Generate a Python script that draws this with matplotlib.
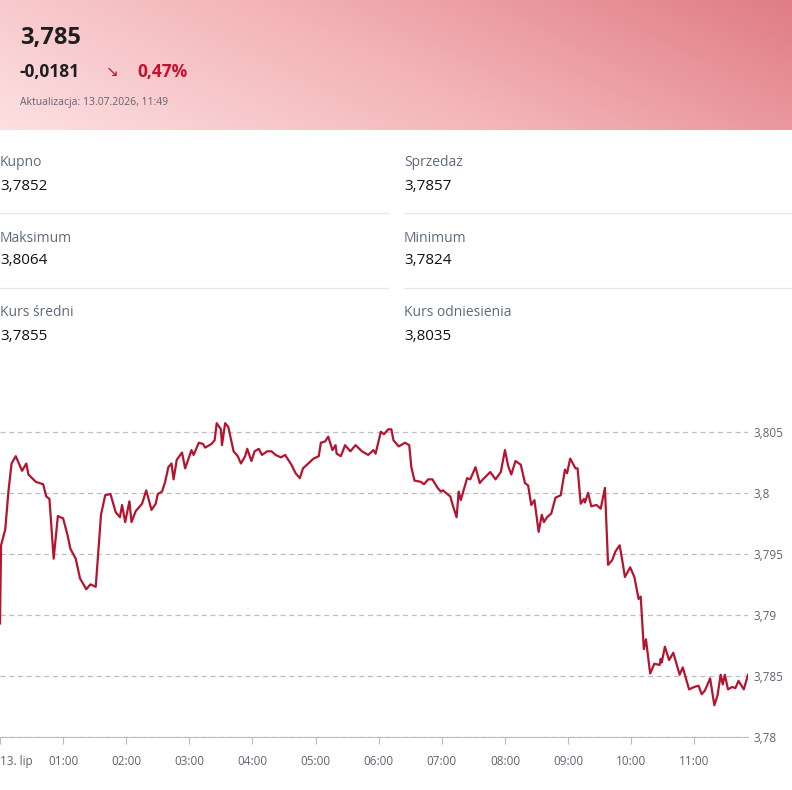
import numpy as np
import matplotlib.pyplot as plt
from matplotlib.colors import LinearSegmentedColormap

plt.rcParams['font.family'] = ['Open Sans', 'DejaVu Sans']

# minuty od północy i kurs
minutes = [0, 1, 5, 8, 11, 15, 21, 25, 27, 34, 41, 44, 47, 51, 55, 60, 64, 67, 72, 76,
           82, 86, 91, 96, 100, 105, 110, 114, 116, 119, 123, 125, 129, 135, 139, 144, 148, 150, 154, 157,
           160, 163, 165, 168, 173, 176, 182, 184, 189, 193, 195, 201, 204, 206, 210, 211, 214, 217, 219, 222,
           226, 229, 233, 235, 239, 242, 246, 249, 254, 258, 262, 267, 271, 277, 281, 285, 288, 293, 298, 303,
           305, 309, 312, 316, 319, 320, 324, 328, 333, 338, 344, 350, 355, 357, 362, 365, 369, 372, 374, 379,
           385, 389, 391, 394, 400, 403, 407, 411, 416, 419, 421, 428, 431, 434, 436, 438, 444, 447, 452, 456,
           459, 466, 471, 476, 480, 483, 486, 490, 495, 499, 502, 505, 508, 512, 515, 517, 520, 524, 528, 533,
           537, 539, 542, 547, 549, 552, 555, 556, 559, 562, 567, 571, 575, 578, 582, 585, 589, 592, 594, 599,
           603, 607, 609, 612, 614, 618, 622, 627, 628, 629, 632, 636, 640, 646, 649, 651, 655, 660, 664, 667,
           670, 675, 679, 682, 685, 687, 689, 692, 696, 699, 702, 707, 711]
rate = [3.7893, 3.7957, 3.7970, 3.8001, 3.8024, 3.8030, 3.8018, 3.8024, 3.8015, 3.8009,
        3.8007, 3.7997, 3.7995, 3.7946, 3.7981, 3.7979, 3.7966, 3.7954, 3.7946, 3.7930,
        3.7921, 3.7925, 3.7923, 3.7982, 3.7998, 3.7999, 3.7984, 3.7980, 3.7990, 3.7976,
        3.7993, 3.7976, 3.7985, 3.7991, 3.8002, 3.7986, 3.7991, 3.7999, 3.8001, 3.8009,
        3.8021, 3.8024, 3.8011, 3.8027, 3.8033, 3.8020, 3.8035, 3.8031, 3.8041, 3.8040,
        3.8037, 3.8040, 3.8043, 3.8057, 3.8052, 3.8039, 3.8057, 3.8054, 3.8046, 3.8034,
        3.8030, 3.8024, 3.8030, 3.8036, 3.8026, 3.8034, 3.8036, 3.8031, 3.8034, 3.8034,
        3.8031, 3.8029, 3.8031, 3.8023, 3.8016, 3.8012, 3.8020, 3.8024, 3.8028, 3.8030,
        3.8041, 3.8042, 3.8046, 3.8035, 3.8039, 3.8032, 3.8030, 3.8039, 3.8034, 3.8039,
        3.8034, 3.8031, 3.8035, 3.8032, 3.8050, 3.8048, 3.8052, 3.8052, 3.8043, 3.8038,
        3.8041, 3.8039, 3.8021, 3.8010, 3.8009, 3.8007, 3.8011, 3.8011, 3.8004, 3.8001,
        3.8002, 3.7997, 3.7988, 3.7980, 3.8001, 3.7994, 3.8012, 3.8011, 3.8021, 3.8008,
        3.8011, 3.8017, 3.8011, 3.8017, 3.8035, 3.8022, 3.8015, 3.8026, 3.8023, 3.8008,
        3.8006, 3.7990, 3.7994, 3.7968, 3.7982, 3.7976, 3.7980, 3.7983, 3.7996, 3.7998,
        3.8019, 3.8016, 3.8028, 3.8020, 3.8020, 3.7991, 3.7995, 3.7992, 3.8000, 3.7989,
        3.7990, 3.7987, 3.8004, 3.7941, 3.7945, 3.7952, 3.7957, 3.7942, 3.7931, 3.7939,
        3.7931, 3.7913, 3.7915, 3.7872, 3.7880, 3.7852, 3.7860, 3.7859, 3.7864, 3.7861,
        3.7874, 3.7863, 3.7869, 3.7851, 3.7857, 3.7851, 3.7839, 3.7841, 3.7842, 3.7835,
        3.7838, 3.7848, 3.7826, 3.7834, 3.7851, 3.7843, 3.7851, 3.7839, 3.7841, 3.7840,
        3.7846, 3.7839, 3.7851]

tick_min = [0, 60, 120, 180, 240, 300, 360, 420, 480, 540, 600, 660]
tick_lbl = ['13. lip', '01:00', '02:00', '03:00', '04:00', '05:00', '06:00',
            '07:00', '08:00', '09:00', '10:00', '11:00']
y_ticks = [3.78, 3.785, 3.79, 3.795, 3.8, 3.805]
y_lbl = ['3,78', '3,785', '3,79', '3,795', '3,8', '3,805']

stats = [('Kupno', '3,7852'), ('Sprzedaż', '3,7857'),
         ('Maksimum', '3,8064'), ('Minimum', '3,7824'),
         ('Kurs średni', '3,7855'), ('Kurs odniesienia', '3,8035')]

W, H = 792, 790
fig = plt.figure(figsize=(W / 100, H / 100), dpi=100)

# nagłówek z gradientem
hdr = fig.add_axes([0, 1 - 130 / H, 1, 130 / H])
cmap = LinearSegmentedColormap.from_list('hdr', ['#fde0e1', '#f3b3b7', '#e07d84'])
gx, gy = np.meshgrid(np.linspace(0, 1, 200), np.linspace(0, 1, 50))
hdr.imshow(0.75 * gx + 0.25 * gy, cmap=cmap, aspect='auto', origin='lower', extent=[0, 1, 0, 1])
hdr.axis('off')

def fx(px): return px / W
def fy(py): return 1 - py / H

fig.text(fx(20), fy(38), '3,785', fontsize=17, fontweight='bold', color='#1e1e1e', va='center')
fig.text(fx(20), fy(72), '-0,0181', fontsize=12.5, fontweight='bold', color='#1e1e1e', va='center')
fig.text(fx(106), fy(72), '↘', fontsize=11, color='#c8102e', va='center', family=['DejaVu Sans'])
fig.text(fx(137), fy(72), '0,47%', fontsize=12.5, fontweight='bold', color='#c8102e', va='center')
fig.text(fx(20), fy(102), 'Aktualizacja: 13.07.2026, 11:49', fontsize=7.5, color='#5f6470', va='center')

for i, (lab, val) in enumerate(stats):
    col, row = i % 2, i // 2
    x0 = 0 if col == 0 else 404
    y0 = 163 + row * 75
    fig.text(fx(x0), fy(y0), lab, fontsize=10, color='#5f6b7a', va='center')
    fig.text(fx(x0), fy(y0 + 23), val, fontsize=11, color='#111111', va='center')
    if row < 2:
        xs = [0, 388] if col == 0 else [404, 792]
        fig.add_artist(plt.Line2D([fx(xs[0]), fx(xs[1])], [fy(y0 + 50)] * 2,
                                  color='#e6e8eb', lw=1))

# wykres
ax = fig.add_axes([0, 1 - 737 / H, 748 / W, (737 - 400) / H])
ax.plot(minutes, rate, color='#b5142f', lw=1.6)
ax.set_xlim(0, 711)
ax.set_ylim(3.78, 3.8076)
ax.set_xticks(tick_min)
ax.set_xticklabels(tick_lbl, fontsize=8.5, color='#5f6470')
ax.get_xticklabels()[0].set_horizontalalignment('left')
ax.tick_params(axis='x', length=5, color='#bbbbbb', pad=8)
ax.set_yticks(y_ticks)
ax.set_yticklabels(y_lbl, fontsize=8.5, color='#5f6470')
ax.yaxis.tick_right()
ax.tick_params(axis='y', length=0, pad=4)
ax.grid(axis='y', color='#bdbdbd', ls=(0, (4, 3)), lw=0.9)
for s in ['top', 'right', 'left']:
    ax.spines[s].set_visible(False)
ax.spines['bottom'].set_color('#bbbbbb')

fig.savefig('out.png', dpi=100)
